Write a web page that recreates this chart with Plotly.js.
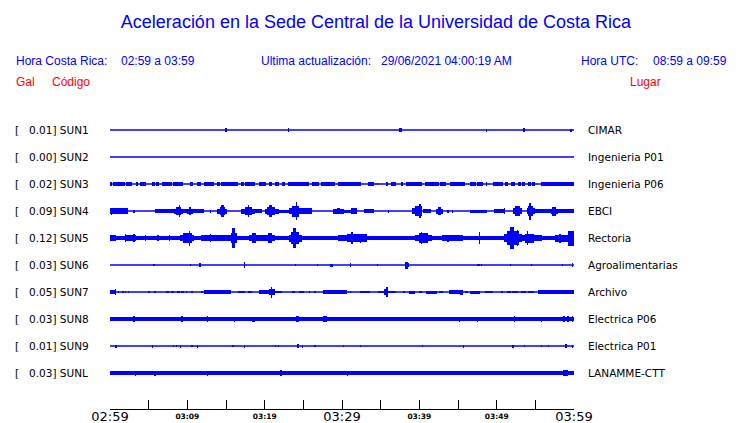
<!DOCTYPE html>
<html><head><meta charset="utf-8">
<script src="https://cdn.plot.ly/plotly-3.0.1.min.js"></script>
<style>html,body{margin:0;padding:0;background:#fff}#chart{width:740px;height:423px}</style>
</head><body><div id="chart"></div>
<script>
// ---- data ----
const codes  = ['SUN1','SUN2','SUN3','SUN4','SUN5','SUN6','SUN7','SUN8','SUN9','SUNL'];
const galMax = ['0.01','0.00','0.02','0.09','0.12','0.03','0.05','0.03','0.01','0.03'];
const places = ['CIMAR','Ingenieria P01','Ingenieria P06','EBCI','Rectoria','Agroalimentarias','Archivo','Electrica P06','Electrica P01','LANAMME-CTT'];

// time axis: minutes after 02:59
const tickMinutes = [0,5,10,15,20,25,30,35,40,45,50,55,60];
const majorTickVals = [0,30,60];
const majorTickText = ['02:59','03:29','03:59'];
const minorTickVals = [10,20,40,50];
const minorTickText = ['03:09','03:19','03:39','03:49'];

// envelope segments per station: [start min, end min, half amplitude]
const sun1 = [[14.9,15.1,2],[23.0,23.2,2],[37.4,37.7,2],[48.6,48.8,1.5],[53.4,53.6,2],[59.5,59.7,1.5]];
const sun2 = [];
const sun3 = [[0.0,0.2,1.8],[0.45,1.9,1.8],[2.1,2.4,1.8],[2.5,2.9,1.8],[3.3,3.6,1.8],[3.9,4.7,1.8],[5.4,5.8,1.8],[6.0,6.4,1.8],[6.7,8.0,1.8],[8.1,8.6,1.8],[8.7,9.5,1.8],[10.3,10.7,1.8],[11.2,11.8,1.8],[12.2,13.5,1.8],[13.9,14.2,1.8],[14.4,16.6,1.8],[17.0,17.3,1.8],[17.4,18.7,1.8],[19.3,20.2,1.8],[20.6,20.9,1.8],[21.3,21.8,1.8],[22.2,22.6,1.8],[23.0,25.7,1.8],[26.1,27.0,1.8],[27.3,29.1,1.8],[29.5,32.5,1.8],[33.4,34.1,1.8],[34.5,34.7,1.2],[35.7,36.0,1.8],[36.4,37.0,1.8],[37.6,37.9,1.8],[38.3,40.3,1.8],[40.7,42.5,1.8],[42.7,43.4,1.8],[44.0,45.9,1.8],[46.6,47.3,1.8],[47.5,48.2,1.8],[48.6,48.8,1.8],[49.5,50.8,1.8],[51.1,51.5,1.8],[51.8,52.4,1.8],[52.7,53.1,1.8],[53.3,53.7,1.8],[54.0,54.4,1.8],[54.6,55.0,1.8],[55.7,60,1.8]];
const sun4 = [[0,2.3,2.7],[0.2,0.3,3.5],[1.2,1.4,3.3],[3.0,3.2,1.5],[5.8,8.3,1.7],[8.3,9.4,2.5],[8.5,9.2,4],[8.9,9.1,6],[9.4,10.0,2],[10.0,10.7,2.5],[10.2,10.5,4],[10.7,12.2,1.7],[12.9,13.0,1.5],[13.9,15.1,2.5],[14.2,14.9,4],[14.4,14.7,6],[17.0,18.7,2.5],[17.4,18.3,4],[17.8,18.0,6],[18.7,19.6,1.7],[20.0,21.9,2.5],[20.3,21.3,4],[20.6,20.9,6],[21.9,23.1,1.5],[23.1,24.8,3],[23.5,24.5,5.5],[24.0,24.2,9],[24.8,26.1,2.7],[28.8,30.2,2.5],[29.4,29.7,3.3],[30.2,31.2,1.5],[31.2,32.0,2.7],[32.9,34.2,1.7],[35.9,36.0,1.5],[39.0,40.4,3],[39.4,40.3,5],[39.9,40.2,6.7],[40.5,41.5,2],[42.2,43.0,2.5],[42.4,42.8,4],[43.6,43.8,1.5],[44.2,44.3,1.5],[46.6,48.8,1.5],[49.6,50.9,1.7],[51.0,51.1,3.3],[52.1,53.3,3],[52.4,53.0,5],[53.9,54.9,3],[54.0,54.7,5],[54.2,54.5,8.5],[54.9,57.0,1.7],[57.0,57.9,2.5],[57.2,57.7,4.5],[57.9,60,2]];
const sun5 = [[0,0.8,2.7],[0.8,1.9,1.7],[2.0,2.1,4.3],[2.1,3.4,3],[3.0,3.2,4],[3.4,9.0,1.7],[4.5,4.6,2.7],[6.1,6.3,3.3],[7.7,7.8,3.3],[9.0,10.9,3],[9.5,10.6,5],[10.2,10.4,7.5],[10.9,11.8,2],[11.8,15.1,3],[12.9,13.0,4.3],[15.1,15.7,2.7],[15.7,16.4,5],[15.8,16.1,10],[16.4,18.0,2.3],[18.0,19.2,3],[18.3,18.9,5],[19.2,21.3,3],[20.4,21.0,5],[21.3,23.1,1.7],[23.1,24.8,3.5],[23.4,24.4,6],[23.7,24.0,10],[24.8,27.4,2.3],[27.4,29.5,1.7],[29.5,30.6,3.3],[30.6,33.2,4],[31.1,31.4,5.7],[32.3,32.5,4.5],[33.2,39.5,1.7],[39.5,41.6,3],[39.9,41.1,5],[40.2,40.4,6],[41.6,42.9,1.7],[42.9,45.3,3],[43.6,43.8,3.5],[44.7,45.7,2.7],[45.7,47.7,1.7],[47.7,47.9,5.7],[47.9,50.9,1.7],[50.9,53.3,4],[51.3,52.9,7],[51.7,52.2,11],[52.6,52.8,8],[53.3,55.9,3],[53.6,54.8,4.5],[53.9,54.1,6.7],[55.9,57.6,1.7],[57.6,59.2,3.5],[58.1,58.3,4.5],[59.2,60,7.5]];
const sun6 = [[5.5,5.8,1.2],[10.4,10.5,1.3],[11.5,11.8,2],[17.3,17.4,3],[23.9,24.0,1],[26.8,26.9,1],[28.5,28.8,1.5],[31.1,31.2,2.3],[34.6,34.7,1.3],[38.2,38.5,3.5],[38.5,38.7,2],[47.5,47.8,1.3],[48.0,48.1,1.3],[51.8,51.9,1.3],[54.4,54.5,1],[58.4,58.5,1],[59.8,59.9,2]];
const sun7 = [[0,0.8,2],[0.6,0.7,2.7],[1.0,1.2,1.3],[1.5,1.75,1.3],[1.9,2.0,1],[2.3,2.4,1],[4.85,4.98,1],[5.1,5.2,1],[5.75,5.9,1],[7.2,7.6,1.3],[7.9,8.3,1.3],[8.7,9.0,1.3],[9.2,9.6,1.3],[9.9,10.0,1],[10.5,10.7,1],[11.8,12.0,1],[12.2,15.7,1.7],[12.6,12.7,2.2],[16.6,17.4,1.3],[17.8,18.3,1.3],[19.3,20.5,1.7],[20.5,21.3,3],[20.8,21.0,5.5],[21.3,22.3,1.3],[23.5,23.9,1],[24.5,25.1,1.3],[25.8,25.9,1],[26.4,26.6,1],[27.6,30.6,1.7],[31.1,31.2,1.3],[32.3,33.6,1],[34.6,35.4,1.3],[35.4,36.0,3],[35.7,35.9,5],[36.0,37.0,1.3],[37.95,38.1,1],[38.6,39.5,1.5],[39.9,40.3,1.3],[40.9,42.3,1.5],[42.6,43.0,1.3],[43.8,45.6,1.7],[45.3,45.6,2.5],[45.9,46.3,1.3],[46.6,47.9,1.5],[48.5,49.5,1.3],[50.5,50.8,1],[51.3,51.8,1.3],[52.0,52.8,1.3],[53.2,53.8,1.3],[54.1,54.8,1.3],[55.3,60,1.7]];
const sun8 = [[0,60,1.8],[3.0,3.2,3],[9.2,9.4,3],[12.6,12.7,2.7],[16.0,16.2,2.5],[18.3,18.7,2.5],[19.7,19.8,2.3],[20.6,20.8,2.3],[21.7,21.8,2.3],[22.6,22.7,2.3],[24.1,24.5,3],[25.8,25.9,2.3],[27.6,28.0,2.7],[28.6,28.8,2.3],[29.3,29.4,2.3],[29.5,30.8,2.2],[31.2,31.3,2.3],[32.4,32.5,2.3],[32.8,32.9,2.3],[40.0,40.2,2.3],[41.8,41.9,2.3],[42.9,43.0,2.3],[43.4,43.5,2.3],[45.1,45.2,2.5],[47.5,47.6,2.5],[52.2,52.4,2.7],[52.9,53.0,2.3],[55.7,55.8,2.5],[58.6,58.9,2.7],[59.1,59.4,2.7],[59.7,59.9,2.7]];
const sun9 = [[0.7,0.84,1.5],[5.37,5.5,1.5],[8.2,8.3,1.3],[8.6,8.7,1.3],[9.1,9.2,1.5],[10.5,10.7,1.3],[11.2,11.3,1.5],[15.8,15.97,1.3],[17.3,17.4,1.5],[21.3,21.4,1.3],[21.8,21.9,1.3],[24.2,24.4,2],[24.8,24.9,1.5],[26.4,26.6,1.3],[30.1,30.2,1.3],[32.3,32.4,1.3],[40.4,40.5,1.3],[45.6,45.7,1.5],[52.0,52.2,1.5],[53.6,53.7,1.3],[55.8,55.9,1.3],[56.6,56.7,1.3],[58.8,58.9,2.3],[59.0,59.1,2.3],[59.8,59.9,1.5]];
const sunl = [[0,60,1.8],[3.3,3.4,2.5],[4.1,4.2,2],[5.75,5.9,2.5],[7.7,7.8,2],[8.6,8.7,2],[10.9,11.0,2],[12.6,12.7,2.5],[13.3,13.4,2],[18.0,18.2,2],[19.8,20.2,2],[22.0,22.3,3],[24.5,25.0,2],[25.8,25.9,2],[30.7,30.8,2.5],[31.9,32.0,2],[36.2,36.3,2],[39.0,39.2,2],[43.4,43.5,2],[45.6,45.9,2],[48.3,48.4,2],[50.5,50.9,2],[58.6,59.2,2.7]];
const waves = [sun1,sun2,sun3,sun4,sun5,sun6,sun7,sun8,sun9,sunl];

// ---- drawing ----
const BLUE = '#0000ff', RED = '#ff0000';
const ROW_PX = 27;              // one row of the stack in pixels (amplitudes are in px)
const L = 110, R = 574, T = 116, B = 409, W = 740, H = 423;
const px2paperX = p => (p - L) / (R - L);
const px2paperY = p => (B - p) / (B - T);

const traces = [];
waves.forEach((segs, k) => {
  traces.push({type:'scatter', mode:'lines', xaxis:'x2', yaxis:'y',
    x:[0,60], y:[k,k], line:{color:BLUE, width:1.3}, hoverinfo:'skip', showlegend:false});
  if (segs.length) {
    traces.push({type:'bar', xaxis:'x', yaxis:'y',
      x: segs.map(s => (s[0]+s[1])/2),
      width: segs.map(s => Math.max(s[1]-s[0], 0.13)),
      base: segs.map(s => k - s[2]/ROW_PX),
      y: segs.map(s => 2*s[2]/ROW_PX),
      marker:{color:BLUE, line:{width:0}}, hoverinfo:'skip', showlegend:false});
  }
});

const ann = [];
const lab = {family:'DejaVu Sans', size:10.5, color:'#000'};
codes.forEach((c, k) => {
  ann.push({xref:'paper', yref:'y', x:px2paperX(13), y:k, xanchor:'left', yanchor:'middle', text:'[', showarrow:false, font:lab});
  ann.push({xref:'paper', yref:'y', x:px2paperX(26.5), y:k, xanchor:'left', yanchor:'middle', text:galMax[k] + '] ' + c, showarrow:false, font:lab});
  ann.push({xref:'paper', yref:'y', x:px2paperX(586), y:k, xanchor:'left', yanchor:'middle', text:places[k], showarrow:false, font:lab});
});
const hdr = (text, x, y, color) => ann.push({xref:'paper', yref:'paper', x:px2paperX(x), y:px2paperY(y),
  xanchor:'left', yanchor:'middle', text, showarrow:false, font:{family:'Liberation Sans', size:12, color}});
hdr('Hora Costa Rica:', 14, 61, BLUE);
hdr('02:59 a 03:59', 119, 61, BLUE);
hdr('Ultima actualización:', 259, 61, BLUE);
hdr('29/06/2021 04:00:19 AM', 379, 61, BLUE);
hdr('Hora UTC:', 579, 61, BLUE);
hdr('08:59 a 09:59', 651, 61, BLUE);
hdr('Gal', 14, 82, RED);
hdr('Código', 50, 82, RED);
hdr('Lugar', 628, 82, RED);

const layout = {
  width:W, height:H, paper_bgcolor:'#fff', plot_bgcolor:'#fff',
  margin:{l:L, r:W-R, t:T, b:H-B, pad:0},
  showlegend:false, barmode:'overlay', bargap:0,
  title:{text:'Aceleración en la Sede Central de la Universidad de Costa Rica',
    font:{family:'Liberation Sans', size:18, color:BLUE},
    xref:'paper', x:px2paperX(376), xanchor:'center', yref:'container', y:1-22/H, yanchor:'middle'},
  xaxis:{range:[0,60], tickmode:'array', tickvals:tickMinutes,
    ticktext: tickMinutes.map(m => { const i = majorTickVals.indexOf(m); return i >= 0 ? majorTickText[i] : ''; }),
    ticks:'inside', ticklen:9, tickwidth:1, tickcolor:'#000', ticklabelstandoff:-5,
    showline:true, linecolor:'#000', linewidth:1, showgrid:false, zeroline:false,
    tickfont:{family:'DejaVu Sans', size:13, color:'#000'}, fixedrange:true},
  xaxis2:{range:[0,60], overlaying:'x', anchor:'y', side:'bottom', tickmode:'array',
    tickvals:minorTickVals, ticktext:minorTickText, ticks:'', showline:false, showgrid:false, zeroline:false,
    ticklabelstandoff:1,
    tickfont:{family:'DejaVu Sans', size:7.5, color:'#000', weight:'bold'}, fixedrange:true},
  yaxis:{range:[(B-130)/ROW_PX, (T-130)/ROW_PX], visible:false, showgrid:false, zeroline:false, fixedrange:true},
  annotations: ann
};
Plotly.newPlot('chart', traces, layout, {staticPlot:true, displayModeBar:false});
</script></body></html>
